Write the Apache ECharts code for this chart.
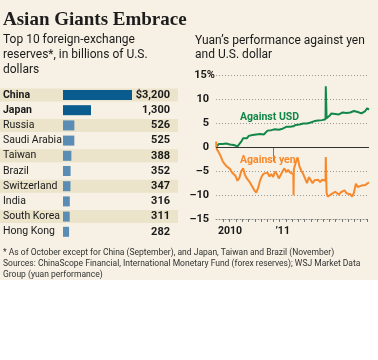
<!DOCTYPE html>
<html><head><meta charset="utf-8">
<script src="https://cdn.jsdelivr.net/npm/echarts@6/dist/echarts.min.js"></script>
<style>html,body{margin:0;padding:0;background:#fff}#c{width:378px;height:360px}</style>
</head><body><div id="c"></div>
<script>
// ---- Left panel: top 10 reserves (billions of US$)
const countries = ['China','Japan','Russia','Saudi Arabia','Taiwan','Brazil','Switzerland','India','South Korea','Hong Kong'];
const reserves = [3200,1300,526,525,388,352,347,316,311,282];
const shaded = [1,0,1,0,1,0,1,0,1,0];

// ---- Right panel: yuan performance (%), since June 2010
const dates = ['2010-06-01','2010-06-04','2010-06-11','2010-06-18','2010-06-25','2010-07-02','2010-07-09','2010-07-16','2010-07-23','2010-07-30',
'2010-08-06','2010-08-13','2010-08-20','2010-08-27','2010-09-03','2010-09-10','2010-09-17','2010-09-24','2010-10-01','2010-10-08',
'2010-10-15','2010-10-22','2010-10-29','2010-11-05','2010-11-12','2010-11-19','2010-11-26','2010-12-03','2010-12-10','2010-12-17',
'2010-12-24','2010-12-31','2011-01-07','2011-01-14','2011-01-21','2011-01-28','2011-02-04','2011-02-11','2011-02-18','2011-02-25',
'2011-03-04','2011-03-11','2011-03-16','2011-03-17','2011-03-18','2011-03-25','2011-04-01','2011-04-08','2011-04-15','2011-04-22',
'2011-04-29','2011-05-06','2011-05-13','2011-05-20','2011-05-27','2011-06-03','2011-06-10','2011-06-17','2011-06-24','2011-07-01',
'2011-07-08','2011-07-14','2011-07-15','2011-07-18','2011-07-22','2011-07-29','2011-08-05','2011-08-12','2011-08-19','2011-08-26',
'2011-09-02','2011-09-09','2011-09-16','2011-09-23','2011-09-30','2011-10-07','2011-10-14','2011-10-21','2011-10-28','2011-11-04',
'2011-11-11','2011-11-18','2011-11-25','2011-12-02','2011-12-09','2011-12-16','2011-12-23'];
const vsUSD = [0.0,0.4,0.7,0.8,0.7,0.9,0.8,0.8,0.6,0.7,
0.5,0.4,0.2,0.3,1.2,1.9,2.1,1.9,2.4,2.2,
2.6,2.4,2.7,3.0,2.8,2.9,2.7,3.1,3.5,3.3,
3.6,3.4,3.8,4.0,3.7,4.0,3.9,4.1,4.3,4.1,
4.3,4.5,4.4,4.4,4.4,4.7,4.6,4.8,4.9,5.0,
5.1,5.0,5.3,5.2,5.4,5.5,5.4,5.6,5.7,5.7,
5.9,5.9,12.8,6.1,6.2,6.6,7.1,6.9,7.0,7.2,
6.9,7.0,7.3,7.1,7.2,7.4,7.3,7.5,7.6,7.7,
7.4,7.5,7.1,7.4,7.6,8.2,7.9];
const vsYen = [1.2,-0.4,-1.0,-1.8,-2.8,-3.4,-3.9,-4.2,-4.5,-5.2,
-5.0,-6.0,-7.0,-6.4,-5.0,-4.4,-5.8,-6.5,-7.0,-7.6,
-8.3,-9.0,-9.5,-8.5,-7.0,-6.0,-5.5,-5.8,-5.3,-6.1,
-5.6,-6.2,-5.1,-5.6,-6.5,-5.8,-5.0,-4.4,-5.2,-4.7,
-5.3,-4.9,-5.6,-10.0,-4.6,-3.2,-2.1,-4.0,-4.9,-5.6,
-5.9,-7.5,-6.2,-6.4,-7.5,-6.9,-7.2,-6.8,-7.3,-6.8,
-7.2,-7.0,-2.0,-9.5,-10.3,-10.7,-9.8,-10.0,-9.3,-9.6,
-9.9,-9.4,-9.2,-9.0,-9.6,-10.0,-9.8,-10.3,-9.5,-7.6,
-8.3,-8.6,-8.0,-8.3,-7.9,-7.6,-7.3];
const xTickDates = ['2010-06-29','2010-07-22','2010-08-15','2010-09-07','2010-09-30','2010-10-24','2010-11-16','2010-12-09','2011-01-01',
'2011-01-24','2011-02-16','2011-03-11','2011-04-03','2011-04-27','2011-05-20','2011-06-12','2011-07-06','2011-07-29','2011-08-21',
'2011-09-14','2011-10-07','2011-10-30','2011-11-22','2011-12-16'];
const xLabelDates = ['2010-06-01','2011-01-01'];
const xLabels = ['2010','\u201911'];
const yearDate = '2011-01-01';
const xMin = '2010-06-01', xMax = '2011-12-23';

const FONT = 'Roboto, "Liberation Sans", sans-serif';
const INK = '#1a1a1a';
const GREEN = '#13874a', ORANGE = '#f7892d';

function ts(s){ const p = s.split('-').map(Number); return Date.UTC(p[0], p[1]-1, p[2]); }
const usdData = dates.map((d,i)=>[ts(d), vsUSD[i]]);
const yenData = dates.map((d,i)=>[ts(d), vsYen[i]]);
const labelTs = xLabelDates.map(ts);

const chart = echarts.init(document.getElementById('c'), null, {renderer:'canvas'});

function txt(text, x, y, size, opts){
  return {type:'text', x:x, y:y, z:10, style:Object.assign({text:text, fontSize:size, fontFamily:FONT, fill:INK, verticalAlign:'middle', align:'left'}, opts||{})};
}

const option = {
  animation:false,
  backgroundColor:'#ffffff',
  graphic:[
    {type:'rect', shape:{x:0,y:0,width:378,height:280}, style:{fill:'#f6f1e4'}, z:-10, silent:true},
    txt('Asian Giants Embrace', 3, 20, 19, {fontFamily:'"Liberation Serif", serif', fontWeight:'bold', fill:'#1d1d1d'}),
    txt('Top 10 foreign-exchange', 3, 40, 12),
    txt('reserves*, in billions of U.S.', 3, 55, 12),
    txt('dollars', 3, 70, 12),
    txt('Yuan\u2019s performance against yen', 195, 41, 12),
    txt('and U.S. dollar', 195, 55, 12),
    txt('Against USD', 240, 117, 10.5, {fontWeight:'bold', fill:GREEN}),
    txt('Against yen', 240, 160.5, 10.5, {fontWeight:'bold', fill:ORANGE}),
    txt('* As of October except for China (September), and Japan, Taiwan and Brazil (November)', 3, 253, 8.5, {fill:'#333'}),
    txt('Sources: ChinaScope Financial, International Monetary Fund (forex reserves); WSJ Market Data', 3, 264, 8.5, {fill:'#333'}),
    txt('Group (yuan performance)', 3, 274.5, 8.5, {fill:'#333'})
  ],
  grid:[
    {left:0, width:178, top:87.4, height:152},
    {left:63, width:69, top:87.4, height:152},
    {left:216, right:9, top:75.7, height:143.3}
  ],
  xAxis:[
    {gridIndex:0, type:'value', min:0, max:1, show:false},
    {gridIndex:1, type:'value', min:0, max:3200, show:false},
    {gridIndex:2, type:'value', min:ts(xMin), max:ts(xMax),
      axisLine:{onZero:false, lineStyle:{color:'#888', type:[1,2], width:1}},
      axisTick:{show:true, customValues:xTickDates.map(ts), length:3, lineStyle:{color:'#777', width:1}},
      axisLabel:{customValues:labelTs, formatter:function(v){const i=labelTs.indexOf(v); return i>=0?xLabels[i]:'';},
        align:'left', margin:7, fontFamily:FONT, fontSize:10.5, fontWeight:'bold', color:INK, padding:[0,0,0,2]},
      splitLine:{show:false}},
    {gridIndex:2, type:'value', min:ts(xMin), max:ts(xMax), position:'bottom',
      axisLine:{show:false},
      axisTick:{show:true, customValues:[ts(yearDate)], length:14, lineStyle:{color:'#777', width:1}},
      axisLabel:{show:false}, splitLine:{show:false}}
  ],
  yAxis:[
    {gridIndex:0, type:'category', inverse:true, data:countries, show:false},
    {gridIndex:1, type:'category', inverse:true, data:countries, show:false},
    {gridIndex:2, type:'value', min:-15, max:15, interval:5,
      axisLine:{show:false}, axisTick:{show:false},
      splitLine:{lineStyle:{color:'#999', type:[1,2], width:1}},
      axisLabel:{margin:1, fontFamily:FONT, fontSize:11, fontWeight:'bold', color:INK,
        formatter:function(v){ if(v===15) return '15%'; return (v<0?'\u2013'+Math.abs(v):String(v)) + '{s| }'; },
        rich:{s:{width:6, fontSize:11, fontFamily:FONT}}}}
  ],
  series:[
    {type:'bar', xAxisIndex:0, yAxisIndex:0, barWidth:13, silent:true, z:1,
      data:shaded.map((s,i)=>({value:1, itemStyle:{color: s ? '#ebe3ca' : 'rgba(0,0,0,0)'}})),
      label:{show:true, position:'insideLeft', distance:3, fontFamily:FONT, fontSize:10.5, color:INK,
        formatter:function(p){ return p.dataIndex<2 ? '{b|'+countries[p.dataIndex]+'}' : countries[p.dataIndex]; },
        rich:{b:{fontFamily:FONT, fontSize:10.5, fontWeight:'bold', color:INK}}}},
    {type:'bar', xAxisIndex:0, yAxisIndex:0, barWidth:13, barGap:'-100%', silent:true, z:1,
      data:reserves.map(()=>1), itemStyle:{color:'rgba(0,0,0,0)'},
      label:{show:true, position:'insideRight', distance:8, fontFamily:FONT, fontSize:11, fontWeight:'bold', color:INK,
        formatter:function(p){ return (p.dataIndex===0?'$':'') + reserves[p.dataIndex].toLocaleString('en-US'); }}},
    {type:'bar', xAxisIndex:1, yAxisIndex:1, barWidth:10, silent:true, z:3,
      data:reserves.map((v,i)=>({value:v, itemStyle:{color: i<2 ? '#0a5b8e' : '#5b8cb4'}}))},
    {type:'line', name:'Against USD', xAxisIndex:2, yAxisIndex:2, data:usdData, showSymbol:false, silent:true,
      lineStyle:{color:GREEN, width:2}, z:4,
      markLine:{silent:true, symbol:'none', label:{show:false}, lineStyle:{color:'#333', width:1, type:'solid'}, data:[{yAxis:0}]}},
    {type:'line', name:'Against yen', xAxisIndex:2, yAxisIndex:2, data:yenData, showSymbol:false, silent:true,
      lineStyle:{color:ORANGE, width:2}, z:4}
  ]
};
chart.setOption(option);
</script></body></html>
